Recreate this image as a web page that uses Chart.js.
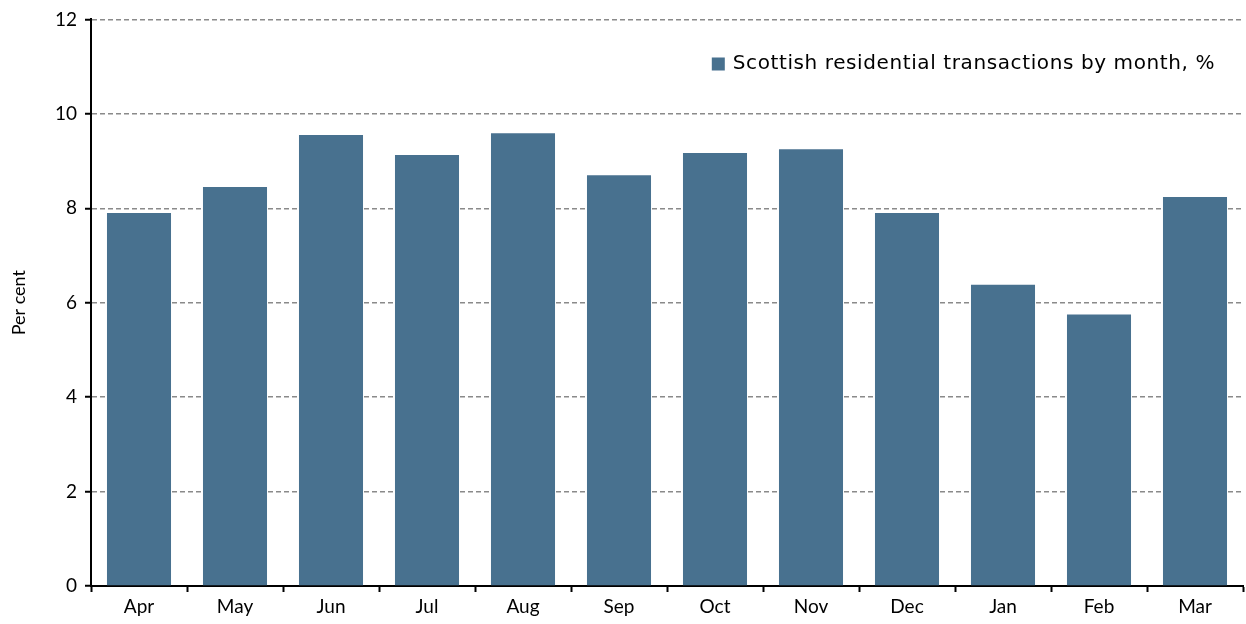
<!DOCTYPE html>
<html>
<head>
<meta charset="utf-8">
<script src="https://cdn.jsdelivr.net/npm/chart.js@4"></script>
<style>
  html, body { margin: 0; padding: 0; background: #fff; }
  #wrap { width: 1246px; height: 624px; }
</style>
</head>
<body>
<div id="wrap"><canvas id="chart" width="1246" height="624"></canvas></div>
<script>
// Share of Scottish residential transactions by month
const months = ["Apr", "May", "Jun", "Jul", "Aug", "Sep", "Oct", "Nov", "Dec", "Jan", "Feb", "Mar"];
const shares = [7.90, 8.45, 9.55, 9.13, 9.59, 8.70, 9.17, 9.25, 7.90, 6.38, 5.75, 8.24];
const seriesName = "Scottish residential transactions by month, %";
const yTicks = [0, 2, 4, 6, 8, 10, 12];

const barColour = "#48718f";
const font = "Lato, 'DejaVu Sans', sans-serif";

// legend drawn inside the plot, top right, like the original
const insideLegend = {
  id: "insideLegend",
  afterDraw(chart) {
    const { ctx, chartArea } = chart;
    const ds = chart.data.datasets[0];
    ctx.save();
    ctx.font = "20px 'DejaVu Sans', sans-serif";
    ctx.letterSpacing = "0.6px";
    ctx.textBaseline = "middle";
    const w = ctx.measureText(ds.label).width;
    const x = chartArea.right - 28 - w;
    const y = 64;
    ctx.fillStyle = ds.backgroundColor;
    ctx.fillRect(x - 21, y - 6.5, 13, 13);
    ctx.fillStyle = "#000";
    ctx.fillText(ds.label, x, y);
    ctx.restore();
  }
};

new Chart(document.getElementById("chart").getContext("2d"), {
  type: "bar",
  data: {
    labels: months,
    datasets: [{
      label: seriesName,
      data: shares,
      backgroundColor: barColour,
      barPercentage: 0.667,
      categoryPercentage: 1.0,
    }]
  },
  options: {
    responsive: false,
    animation: false,
    layout: { padding: { top: 15, right: 3, left: 0, bottom: 0 } },
    scales: {
      x: {
        afterFit: s => { s.height = 38; },
        grid: { offset: true, drawOnChartArea: false, drawTicks: true, tickLength: 6, tickWidth: 2, tickColor: "#000" },
        border: { display: true, color: "#000", width: 2 },
        ticks: { color: "#000", font: { family: font, size: 19 }, padding: 3 }
      },
      y: {
        min: 0,
        max: 12,
        afterFit: s => { s.width = 91; },
        afterBuildTicks: s => { s.ticks = yTicks.map(v => ({ value: v })); },
        grid: { color: "#8a8a8a", lineWidth: 1.5, drawTicks: true, tickLength: 6, tickWidth: 2, tickColor: "#000" },
        border: { display: true, color: "#000", width: 2, dash: [5, 3] },
        ticks: { color: "#000", font: { family: font, size: 19 }, padding: 8 },
        title: { display: true, text: "Per cent", color: "#000", font: { family: font, size: 18 }, padding: { top: 8, bottom: 0 } }
      }
    },
    plugins: {
      legend: { display: false },
      tooltip: { enabled: false }
    }
  },
  plugins: [insideLegend]
});
</script>
</body>
</html>
